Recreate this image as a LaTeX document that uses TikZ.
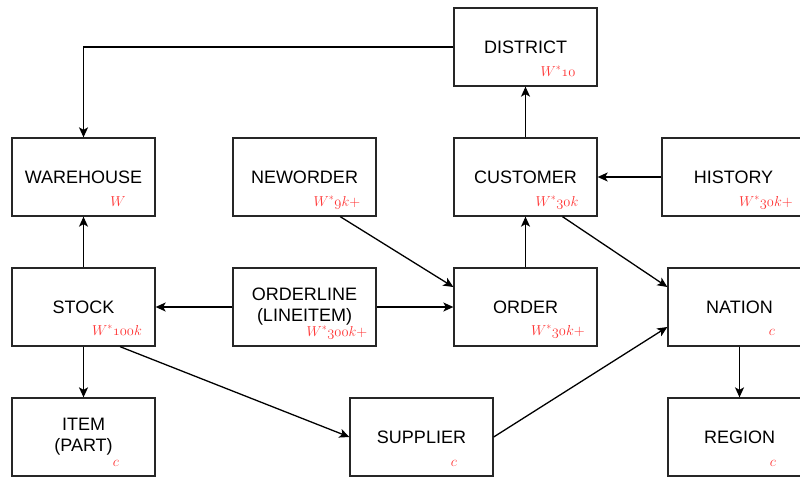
\documentclass[tikz,border=0pt]{standalone}
\usepackage{fontspec}
\setmainfont{Liberation Sans}
\usetikzlibrary{arrows.meta,calc}
\definecolor{redlab}{RGB}{255,51,51}
\newcommand\od[1]{\mathchar"013#1}
\tikzset{
  box/.style={draw=black!85,line width=1.3pt,minimum width=143pt,minimum height=78pt,inner sep=0pt,align=center,font=\fontsize{18}{21}\selectfont},
  lab/.style={text=redlab,anchor=base,inner sep=0pt,font=\fontsize{14.4}{17}\selectfont},
  conn/.style={draw=black,line width=1.3pt,-{Stealth[length=10pt,width=9pt,inset=2.5pt]}}
}
\begin{document}
\begin{tikzpicture}[x=1pt,y=-1pt]
\useasboundingbox (0,0) rectangle (800,477);
% boxes
\node[box] (district) at (525.5,47) {DISTRICT};
\node[box] (warehouse) at (83.5,177) {WAREHOUSE};
\node[box] (neworder) at (304.5,177) {NEWORDER};
\node[box] (customer) at (525.5,177) {CUSTOMER};
\node[box] (history) at (733.5,177) {HISTORY};
\node[box] (stock) at (83.5,307) {STOCK};
\node[box] (orderline) at (304.5,307) {ORDERLINE\\(LINEITEM)};
\node[box] (order) at (525.5,307) {ORDER};
\node[box] (nation) at (739.5,307) {NATION};
\node[box] (item) at (83.5,437) {ITEM\\(PART)};
\node[box] (supplier) at (421.5,437) {SUPPLIER};
\node[box] (region) at (739.5,437) {REGION};
% red labels
\node[lab] (l1) at (558,76) {$W^{*}\od1\od0$};
\node[lab] (l2) at (118,206) {$W$};
\node[lab] (l3) at (337,206) {$W^{*}\od9k{+}$};
\node[lab] (l4) at (557,206) {$W^{*}\od3\od0k$};
\node[lab] (l5) at (766,206) {$W^{*}\od3\od0k{+}$};
\node[lab] (l6) at (117,335) {$W^{*}\od1\od0\od0k$};
\node[lab] (l7) at (337,336) {$W^{*}\od3\od0\od0k{+}$};
\node[lab] (l8) at (558,335) {$W^{*}\od3\od0k{+}$};
\node[lab] (l9) at (772,335) {$c$};
\node[lab] (l10) at (116,466) {$c$};
\node[lab] (l11) at (454,466) {$c$};
\node[lab] (l12) at (773,466) {$c$};
% connectors
\draw[conn] (district.west) -| (warehouse.north);
\draw[conn] (customer.north) -- (district.south);
\draw[conn] (history.west) -- (customer.east);
\draw[conn] ([xshift=35.75pt]neworder.south) -- ([yshift=20pt]order.west);
\draw[conn] (order.north) -- (customer.south);
\draw[conn] ([xshift=37pt]customer.south) -- ([yshift=20pt]nation.west);
\draw[conn] (stock.north) -- (warehouse.south);
\draw[conn] (orderline.west) -- (stock.east);
\draw[conn] (orderline.east) -- (order.west);
\draw[conn] (stock.south) -- (item.north);
\draw[conn] ([xshift=36.5pt]stock.south) -- (supplier.west);
\draw[conn] (supplier.east) -- ([yshift=-20pt]nation.west);
\draw[conn] (nation.south) -- (region.north);
\end{tikzpicture}
\end{document}
